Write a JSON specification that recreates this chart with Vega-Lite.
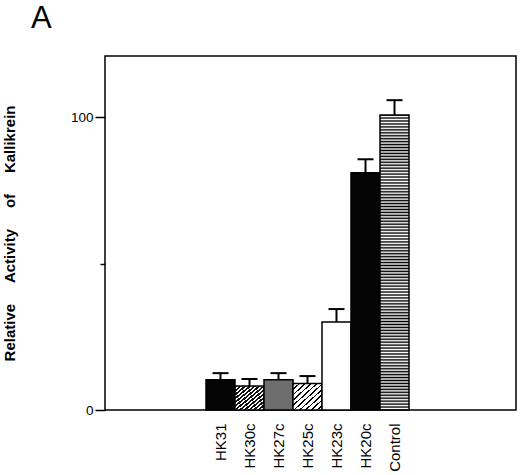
{
  "$schema": "https://vega.github.io/schema/vega-lite/v6.json",
  "description": "Relative activity of kallikrein by construct",
  "width": 411,
  "height": 354,
  "autosize": "none",
  "padding": {"left": 105, "top": 56, "right": 4, "bottom": 65},
  "background": "white",
  "title": {
    "text": "A",
    "anchor": "start",
    "frame": "group",
    "font": "Liberation Sans",
    "fontSize": 31,
    "fontWeight": "normal",
    "color": "#000",
    "baseline": "alphabetic",
    "dx": -74,
    "offset": -3
  },
  "config": {
    "font": "Liberation Sans",
    "view": {"stroke": "#000", "strokeWidth": 1.5}
  },
  "data": {
    "values": [
      {"name": "HK31", "value": 10.3, "err": 12.6},
      {"name": "HK30c", "value": 8.2, "err": 10.6},
      {"name": "HK27c", "value": 10.3, "err": 12.6},
      {"name": "HK25c", "value": 9.1, "err": 11.6},
      {"name": "HK23c", "value": 30.1, "err": 34.5},
      {"name": "HK20c", "value": 81.1, "err": 85.7},
      {"name": "Control", "value": 100.8, "err": 105.9}
    ]
  },
  "encoding": {
    "x": {
      "field": "name",
      "type": "nominal",
      "sort": null,
      "scale": {"range": [101, 304], "paddingInner": 0, "paddingOuter": 0},
      "axis": {
        "title": null,
        "labelAngle": -90,
        "labelFont": "Liberation Sans",
        "labelFontSize": 15,
        "labelColor": "#000",
        "labelPadding": 13,
        "ticks": false,
        "domain": false
      }
    }
  },
  "layer": [
    {
      "mark": {"type": "bar", "stroke": "#000", "strokeWidth": 1.5},
      "encoding": {
        "y": {
          "field": "value",
          "type": "quantitative",
          "scale": {"domain": [0, 121], "nice": false},
          "axis": {
            "values": [0, 50, 100],
            "labelExpr": "datum.value === 50 ? '' : datum.label",
            "labelFont": "Liberation Sans",
            "labelFontSize": 13.5,
            "labelColor": "#000",
            "labelPadding": 2,
            "tickSize": {"condition": {"test": "datum.value === 50", "value": 5}, "value": 10},
            "tickColor": "#000",
            "tickWidth": 1.5,
            "domain": false,
            "grid": false,
            "title": "Relative\u00a0\u00a0\u00a0\u00a0\u00a0Activity\u00a0\u00a0\u00a0\u00a0\u00a0of\u00a0\u00a0\u00a0\u00a0\u00a0Kallikrein",
            "titleFont": "Liberation Sans",
            "titleFontSize": 15,
            "titleFontWeight": "bold",
            "titleColor": "#000",
            "titleAngle": 270,
            "titleAlign": "center",
            "titleBaseline": "middle",
            "titleX": -96,
            "titleY": 177
          }
        },
        "fill": {
          "condition": [
            {"test": "datum.name === 'HK23c'", "value": "#fff"},
            {"test": "datum.name === 'HK27c'", "value": "#6e6e6e"},
            {"test": "datum.name === 'HK30c'", "value": {
              "gradient": "linear", "x1": 0, "y1": 0, "x2": 1, "y2": 1,
              "stops": [
                {"offset": 0, "color": "#111"}, {"offset": 0.045, "color": "#111"}, {"offset": 0.045, "color": "#fff"}, {"offset": 0.08, "color": "#fff"},
                {"offset": 0.08, "color": "#111"}, {"offset": 0.125, "color": "#111"}, {"offset": 0.125, "color": "#fff"}, {"offset": 0.16, "color": "#fff"},
                {"offset": 0.16, "color": "#111"}, {"offset": 0.205, "color": "#111"}, {"offset": 0.205, "color": "#fff"}, {"offset": 0.24, "color": "#fff"},
                {"offset": 0.24, "color": "#111"}, {"offset": 0.285, "color": "#111"}, {"offset": 0.285, "color": "#fff"}, {"offset": 0.32, "color": "#fff"},
                {"offset": 0.32, "color": "#111"}, {"offset": 0.365, "color": "#111"}, {"offset": 0.365, "color": "#fff"}, {"offset": 0.4, "color": "#fff"},
                {"offset": 0.4, "color": "#111"}, {"offset": 0.445, "color": "#111"}, {"offset": 0.445, "color": "#fff"}, {"offset": 0.48, "color": "#fff"},
                {"offset": 0.48, "color": "#111"}, {"offset": 0.525, "color": "#111"}, {"offset": 0.525, "color": "#fff"}, {"offset": 0.56, "color": "#fff"},
                {"offset": 0.56, "color": "#111"}, {"offset": 0.605, "color": "#111"}, {"offset": 0.605, "color": "#fff"}, {"offset": 0.64, "color": "#fff"},
                {"offset": 0.64, "color": "#111"}, {"offset": 0.685, "color": "#111"}, {"offset": 0.685, "color": "#fff"}, {"offset": 0.72, "color": "#fff"},
                {"offset": 0.72, "color": "#111"}, {"offset": 0.765, "color": "#111"}, {"offset": 0.765, "color": "#fff"}, {"offset": 0.8, "color": "#fff"},
                {"offset": 0.8, "color": "#111"}, {"offset": 0.845, "color": "#111"}, {"offset": 0.845, "color": "#fff"}, {"offset": 0.88, "color": "#fff"},
                {"offset": 0.88, "color": "#111"}, {"offset": 0.925, "color": "#111"}, {"offset": 0.925, "color": "#fff"}, {"offset": 0.96, "color": "#fff"},
                {"offset": 0.96, "color": "#111"}, {"offset": 1, "color": "#111"}
              ]
            }},
            {"test": "datum.name === 'HK25c'", "value": {
              "gradient": "linear", "x1": 0, "y1": 0, "x2": 1, "y2": 1,
              "stops": [
                {"offset": 0, "color": "#000"}, {"offset": 0.03, "color": "#000"}, {"offset": 0.03, "color": "#fff"}, {"offset": 0.1, "color": "#fff"},
                {"offset": 0.1, "color": "#000"}, {"offset": 0.13, "color": "#000"}, {"offset": 0.13, "color": "#fff"}, {"offset": 0.2, "color": "#fff"},
                {"offset": 0.2, "color": "#000"}, {"offset": 0.23, "color": "#000"}, {"offset": 0.23, "color": "#fff"}, {"offset": 0.3, "color": "#fff"},
                {"offset": 0.3, "color": "#000"}, {"offset": 0.33, "color": "#000"}, {"offset": 0.33, "color": "#fff"}, {"offset": 0.4, "color": "#fff"},
                {"offset": 0.4, "color": "#000"}, {"offset": 0.43, "color": "#000"}, {"offset": 0.43, "color": "#fff"}, {"offset": 0.5, "color": "#fff"},
                {"offset": 0.5, "color": "#000"}, {"offset": 0.53, "color": "#000"}, {"offset": 0.53, "color": "#fff"}, {"offset": 0.6, "color": "#fff"},
                {"offset": 0.6, "color": "#000"}, {"offset": 0.63, "color": "#000"}, {"offset": 0.63, "color": "#fff"}, {"offset": 0.7, "color": "#fff"},
                {"offset": 0.7, "color": "#000"}, {"offset": 0.73, "color": "#000"}, {"offset": 0.73, "color": "#fff"}, {"offset": 0.8, "color": "#fff"},
                {"offset": 0.8, "color": "#000"}, {"offset": 0.83, "color": "#000"}, {"offset": 0.83, "color": "#fff"}, {"offset": 0.9, "color": "#fff"},
                {"offset": 0.9, "color": "#000"}, {"offset": 0.93, "color": "#000"}, {"offset": 0.93, "color": "#fff"}, {"offset": 1, "color": "#fff"}
              ]
            }},
            {"test": "datum.name === 'Control'", "value": {
              "gradient": "linear", "x1": 0, "y1": 0, "x2": 0, "y2": 1,
              "stops": [
                {"offset": 0, "color": "#000"}, {"offset": 0.005, "color": "#fff"}, {"offset": 0.01, "color": "#000"}, {"offset": 0.015, "color": "#fff"}, {"offset": 0.02, "color": "#000"},
                {"offset": 0.025, "color": "#fff"}, {"offset": 0.03, "color": "#000"}, {"offset": 0.035, "color": "#fff"}, {"offset": 0.04, "color": "#000"}, {"offset": 0.045, "color": "#fff"},
                {"offset": 0.05, "color": "#000"}, {"offset": 0.055, "color": "#fff"}, {"offset": 0.06, "color": "#000"}, {"offset": 0.065, "color": "#fff"}, {"offset": 0.07, "color": "#000"},
                {"offset": 0.075, "color": "#fff"}, {"offset": 0.08, "color": "#000"}, {"offset": 0.085, "color": "#fff"}, {"offset": 0.09, "color": "#000"}, {"offset": 0.095, "color": "#fff"},
                {"offset": 0.1, "color": "#000"}, {"offset": 0.105, "color": "#fff"}, {"offset": 0.11, "color": "#000"}, {"offset": 0.115, "color": "#fff"}, {"offset": 0.12, "color": "#000"},
                {"offset": 0.125, "color": "#fff"}, {"offset": 0.13, "color": "#000"}, {"offset": 0.135, "color": "#fff"}, {"offset": 0.14, "color": "#000"}, {"offset": 0.145, "color": "#fff"},
                {"offset": 0.15, "color": "#000"}, {"offset": 0.155, "color": "#fff"}, {"offset": 0.16, "color": "#000"}, {"offset": 0.165, "color": "#fff"}, {"offset": 0.17, "color": "#000"},
                {"offset": 0.175, "color": "#fff"}, {"offset": 0.18, "color": "#000"}, {"offset": 0.185, "color": "#fff"}, {"offset": 0.19, "color": "#000"}, {"offset": 0.195, "color": "#fff"},
                {"offset": 0.2, "color": "#000"}, {"offset": 0.205, "color": "#fff"}, {"offset": 0.21, "color": "#000"}, {"offset": 0.215, "color": "#fff"}, {"offset": 0.22, "color": "#000"},
                {"offset": 0.225, "color": "#fff"}, {"offset": 0.23, "color": "#000"}, {"offset": 0.235, "color": "#fff"}, {"offset": 0.24, "color": "#000"}, {"offset": 0.245, "color": "#fff"},
                {"offset": 0.25, "color": "#000"}, {"offset": 0.255, "color": "#fff"}, {"offset": 0.26, "color": "#000"}, {"offset": 0.265, "color": "#fff"}, {"offset": 0.27, "color": "#000"},
                {"offset": 0.275, "color": "#fff"}, {"offset": 0.28, "color": "#000"}, {"offset": 0.285, "color": "#fff"}, {"offset": 0.29, "color": "#000"}, {"offset": 0.295, "color": "#fff"},
                {"offset": 0.3, "color": "#000"}, {"offset": 0.305, "color": "#fff"}, {"offset": 0.31, "color": "#000"}, {"offset": 0.315, "color": "#fff"}, {"offset": 0.32, "color": "#000"},
                {"offset": 0.325, "color": "#fff"}, {"offset": 0.33, "color": "#000"}, {"offset": 0.335, "color": "#fff"}, {"offset": 0.34, "color": "#000"}, {"offset": 0.345, "color": "#fff"},
                {"offset": 0.35, "color": "#000"}, {"offset": 0.355, "color": "#fff"}, {"offset": 0.36, "color": "#000"}, {"offset": 0.365, "color": "#fff"}, {"offset": 0.37, "color": "#000"},
                {"offset": 0.375, "color": "#fff"}, {"offset": 0.38, "color": "#000"}, {"offset": 0.385, "color": "#fff"}, {"offset": 0.39, "color": "#000"}, {"offset": 0.395, "color": "#fff"},
                {"offset": 0.4, "color": "#000"}, {"offset": 0.405, "color": "#fff"}, {"offset": 0.41, "color": "#000"}, {"offset": 0.415, "color": "#fff"}, {"offset": 0.42, "color": "#000"},
                {"offset": 0.425, "color": "#fff"}, {"offset": 0.43, "color": "#000"}, {"offset": 0.435, "color": "#fff"}, {"offset": 0.44, "color": "#000"}, {"offset": 0.445, "color": "#fff"},
                {"offset": 0.45, "color": "#000"}, {"offset": 0.455, "color": "#fff"}, {"offset": 0.46, "color": "#000"}, {"offset": 0.465, "color": "#fff"}, {"offset": 0.47, "color": "#000"},
                {"offset": 0.475, "color": "#fff"}, {"offset": 0.48, "color": "#000"}, {"offset": 0.485, "color": "#fff"}, {"offset": 0.49, "color": "#000"}, {"offset": 0.495, "color": "#fff"},
                {"offset": 0.5, "color": "#000"}, {"offset": 0.505, "color": "#fff"}, {"offset": 0.51, "color": "#000"}, {"offset": 0.515, "color": "#fff"}, {"offset": 0.52, "color": "#000"},
                {"offset": 0.525, "color": "#fff"}, {"offset": 0.53, "color": "#000"}, {"offset": 0.535, "color": "#fff"}, {"offset": 0.54, "color": "#000"}, {"offset": 0.545, "color": "#fff"},
                {"offset": 0.55, "color": "#000"}, {"offset": 0.555, "color": "#fff"}, {"offset": 0.56, "color": "#000"}, {"offset": 0.565, "color": "#fff"}, {"offset": 0.57, "color": "#000"},
                {"offset": 0.575, "color": "#fff"}, {"offset": 0.58, "color": "#000"}, {"offset": 0.585, "color": "#fff"}, {"offset": 0.59, "color": "#000"}, {"offset": 0.595, "color": "#fff"},
                {"offset": 0.6, "color": "#000"}, {"offset": 0.605, "color": "#fff"}, {"offset": 0.61, "color": "#000"}, {"offset": 0.615, "color": "#fff"}, {"offset": 0.62, "color": "#000"},
                {"offset": 0.625, "color": "#fff"}, {"offset": 0.63, "color": "#000"}, {"offset": 0.635, "color": "#fff"}, {"offset": 0.64, "color": "#000"}, {"offset": 0.645, "color": "#fff"},
                {"offset": 0.65, "color": "#000"}, {"offset": 0.655, "color": "#fff"}, {"offset": 0.66, "color": "#000"}, {"offset": 0.665, "color": "#fff"}, {"offset": 0.67, "color": "#000"},
                {"offset": 0.675, "color": "#fff"}, {"offset": 0.68, "color": "#000"}, {"offset": 0.685, "color": "#fff"}, {"offset": 0.69, "color": "#000"}, {"offset": 0.695, "color": "#fff"},
                {"offset": 0.7, "color": "#000"}, {"offset": 0.705, "color": "#fff"}, {"offset": 0.71, "color": "#000"}, {"offset": 0.715, "color": "#fff"}, {"offset": 0.72, "color": "#000"},
                {"offset": 0.725, "color": "#fff"}, {"offset": 0.73, "color": "#000"}, {"offset": 0.735, "color": "#fff"}, {"offset": 0.74, "color": "#000"}, {"offset": 0.745, "color": "#fff"},
                {"offset": 0.75, "color": "#000"}, {"offset": 0.755, "color": "#fff"}, {"offset": 0.76, "color": "#000"}, {"offset": 0.765, "color": "#fff"}, {"offset": 0.77, "color": "#000"},
                {"offset": 0.775, "color": "#fff"}, {"offset": 0.78, "color": "#000"}, {"offset": 0.785, "color": "#fff"}, {"offset": 0.79, "color": "#000"}, {"offset": 0.795, "color": "#fff"},
                {"offset": 0.8, "color": "#000"}, {"offset": 0.805, "color": "#fff"}, {"offset": 0.81, "color": "#000"}, {"offset": 0.815, "color": "#fff"}, {"offset": 0.82, "color": "#000"},
                {"offset": 0.825, "color": "#fff"}, {"offset": 0.83, "color": "#000"}, {"offset": 0.835, "color": "#fff"}, {"offset": 0.84, "color": "#000"}, {"offset": 0.845, "color": "#fff"},
                {"offset": 0.85, "color": "#000"}, {"offset": 0.855, "color": "#fff"}, {"offset": 0.86, "color": "#000"}, {"offset": 0.865, "color": "#fff"}, {"offset": 0.87, "color": "#000"},
                {"offset": 0.875, "color": "#fff"}, {"offset": 0.88, "color": "#000"}, {"offset": 0.885, "color": "#fff"}, {"offset": 0.89, "color": "#000"}, {"offset": 0.895, "color": "#fff"},
                {"offset": 0.9, "color": "#000"}, {"offset": 0.905, "color": "#fff"}, {"offset": 0.91, "color": "#000"}, {"offset": 0.915, "color": "#fff"}, {"offset": 0.92, "color": "#000"},
                {"offset": 0.925, "color": "#fff"}, {"offset": 0.93, "color": "#000"}, {"offset": 0.935, "color": "#fff"}, {"offset": 0.94, "color": "#000"}, {"offset": 0.945, "color": "#fff"},
                {"offset": 0.95, "color": "#000"}, {"offset": 0.955, "color": "#fff"}, {"offset": 0.96, "color": "#000"}, {"offset": 0.965, "color": "#fff"}, {"offset": 0.97, "color": "#000"},
                {"offset": 0.975, "color": "#fff"}, {"offset": 0.98, "color": "#000"}, {"offset": 0.985, "color": "#fff"}, {"offset": 0.99, "color": "#000"}, {"offset": 0.995, "color": "#fff"},
                {"offset": 1, "color": "#000"}
              ]
            }}
          ],
          "value": "#050505"
        }
      }
    },
    {
      "mark": {"type": "rule", "color": "#000", "strokeWidth": 2},
      "encoding": {
        "y": {"field": "value", "type": "quantitative"},
        "y2": {"field": "err"}
      }
    },
    {
      "mark": {"type": "tick", "color": "#000", "size": 16, "thickness": 2, "opacity": 1},
      "encoding": {
        "y": {"field": "err", "type": "quantitative"}
      }
    }
  ]
}
